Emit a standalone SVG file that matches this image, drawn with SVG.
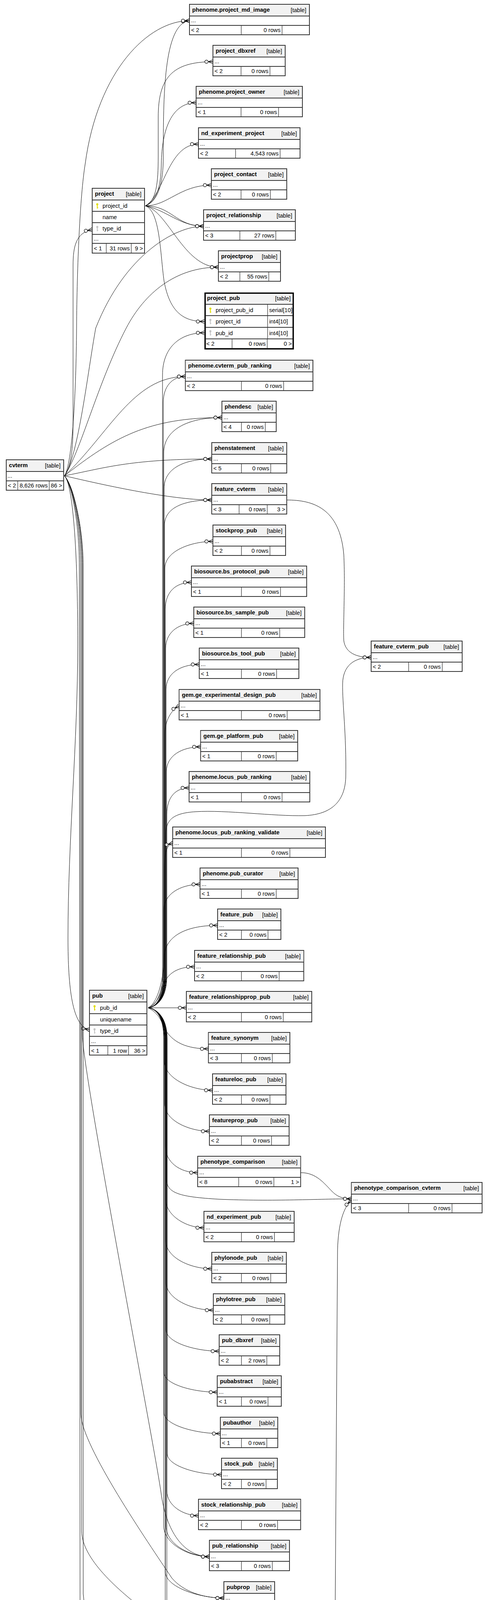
<svg xmlns="http://www.w3.org/2000/svg" xmlns:xlink="http://www.w3.org/1999/xlink" width="1244" height="4453" viewBox="0 0 1244 4453">
<style>
.tb{fill:#fff;stroke:#333;stroke-width:2}
.tbk{fill:#fff;stroke:#000;stroke-width:3.5}
.hd{fill:#f2f2f2}
.ln{stroke:#333;stroke-width:2;fill:none}
.vl{stroke:#333;stroke-width:1.3;fill:none}
.t{font-family:"Liberation Sans",Arial,Helvetica,sans-serif;font-size:14.67px;fill:#000}
.b{font-weight:bold}
.e{text-anchor:end}
.edge{fill:none;stroke:#000;stroke-width:1;marker-end:url(#crow)}
</style>
<defs>
<marker id="crow" viewBox="-24 -8 26 16" refX="0" refY="0" markerWidth="26" markerHeight="16" markerUnits="userSpaceOnUse" orient="auto">
<path d="M-12,0 L0,-5 M-12,0 L0,0 M-12,0 L0,5" fill="none" stroke="#000" stroke-width="1.3"/>
<circle cx="-16.5" cy="0" r="4.2" fill="#fff" stroke="#000" stroke-width="1.3"/>
</marker>
<g id="kpk"><circle cx="0" cy="-4" r="2.7" fill="#e0dc00"/><rect x="-1.1" y="-2" width="2.2" height="9" fill="#e0dc00"/><rect x="0" y="4" width="2.6" height="1.4" fill="#e0dc00"/></g>
<g id="kfk"><circle cx="0" cy="-4" r="2.7" fill="#c4c4c4"/><rect x="-1.1" y="-2" width="2.2" height="9" fill="#c4c4c4"/><rect x="0" y="4" width="2.6" height="1.4" fill="#c4c4c4"/></g>
</defs>
<rect x="0" y="0" width="1244" height="4453" fill="#fff"/>

<g id="connectors">
<!-- project edges -->
<path class="edge" d="M372,527 C405,515 418,470 418,400 C418,250 418,60 485,53"/>
<path class="edge" d="M372,527 C400,515 405,470 405,400 L405,300 C405,200 440,158 545,158"/>
<path class="edge" d="M372,527 C400,515 412,480 413,420 C414,330 440,263 502,263"/>
<path class="edge" d="M372,527 C420,500 430,369 508,369"/>
<path class="edge" d="M372,527 C430,527 460,474 541,474"/>
<path class="edge" d="M372,527 C440,527 450,579 521,579"/>
<path class="edge" d="M372,527 C425,537 460,579 521,579"/>
<path class="edge" d="M372,527 C430,540 470,684 559,684"/>
<path class="edge" d="M372,527 C410,540 410,650 420,720 C435,800 470,823 523,823"/>
<!-- cvterm edges -->
<path class="edge" d="M165,1218 C182,1195 187,1150 187,1080 L187,680 C187,630 195,595 236,588"/>
<path class="edge" d="M165,1218 C185,1190 195,1000 196,840 C197,680 205,500 218,420 C250,180 380,53 485,53"/>
<path class="edge" d="M165,1218 C200,1170 225,950 245,840 C320,650 450,579 521,579"/>
<path class="edge" d="M165,1218 C205,1160 250,980 323,840 C370,750 450,684 559,684"/>
<path class="edge" d="M165,1218 C280,1110 340,964 474.5,964"/>
<path class="edge" d="M165,1218 C290,1120 380,1069 568,1069"/>
<path class="edge" d="M165,1218 C260,1200 330,1175 542,1175"/>
<path class="edge" d="M165,1218 C300,1250 450,1280 542,1280"/>
<path class="edge" d="M165,1218 C186,1240 199,1400 199,1650 C199,1900 174,2150 174,2400 C174,2530 185,2628 229,2636"/>
<path class="edge" d="M165,1218 C190,1245 211,1350 211,1450 L211,2650 C212,2750 395,3700 412,3820 C425,3920 470,3985 536,3985"/>
<path class="edge" d="M165,1218 C188,1245 206,1350 206,1450 L207,3620 C208,3700 380,3950 440,4040 C470,4075 520,4091 573,4091"/>
<path class="edge" d="M165,1218 C188,1245 209,1350 209,1450 L209,3920 C210,3990 300,4070 380,4130 C430,4170 490,4196 552,4196"/>
<path class="edge" d="M165,1218 C188,1245 213,1350 213,1450 L213,4080 C225,4230 330,4301 494,4301"/>
<path class="edge" d="M165,1218 C186,1245 203,1350 203,1450 L205,4200 C207,4340 380,4403 630,4403 C760,4403 850,4370 857,4270 L864,3200 C866,3130 880,3090 899.5,3073"/>
<!-- pub edges (upwards) -->
<path class="edge" d="M379,2580 C398,2578 416,2560 416,2500 L416,960 C416,890 460,852 523,852"/>
<path class="edge" d="M379,2580 C398,2578 418,2560 418,2500 L418,1030 C418,990 440,964 474.5,964"/>
<path class="edge" d="M379,2580 C398,2578 419,2560 419,2500 L419,1160 C419,1100 480,1069 568,1069"/>
<path class="edge" d="M379,2580 C398,2578 420,2560 420,2500 L420,1250 C420,1200 470,1175 542,1175"/>
<path class="edge" d="M379,2580 C398,2578 421,2560 421,2500 L421,1345 C421,1300 470,1280 542,1280"/>
<path class="edge" d="M379,2580 C398,2578 422,2560 422,2500 L422,1455 C422,1410 490,1386 545,1386"/>
<path class="edge" d="M379,2580 C398,2578 423,2560 423,2500 L423,1560 C423,1515 450,1491 490,1491"/>
<path class="edge" d="M379,2580 C398,2578 424,2560 424,2500 L424,1660 C424,1620 455,1596 496,1596"/>
<path class="edge" d="M379,2580 C398,2578 425,2560 425,2500 L425,1765 C425,1725 460,1701 510,1701"/>
<path class="edge" d="M379,2580 C398,2578 422,2560 422,2500 L422,1880 C422,1845 438,1818 458.5,1807"/>
<path class="edge" d="M379,2580 C398,2578 426,2560 426,2500 L426,1975 C426,1935 465,1912 513.5,1912"/>
<path class="edge" d="M379,2580 C398,2578 427,2560 427,2500 L427,2085 C427,2040 450,2017 484,2017"/>
<path class="edge" d="M379,2580 C398,2578 421,2560 421,2500 L421,2230 C421,2190 424,2163 442,2159"/>
<path class="edge" d="M379,2580 C398,2578 419,2540 419,2470 L419,2330 C419,2290 460,2264 512,2264"/>
<path class="edge" d="M379,2580 C400,2570 418,2520 420,2450 C422,2400 470,2369 557,2369"/>
<path class="edge" d="M379,2580 C400,2570 410,2550 415,2530 C425,2495 450,2475 498,2475"/>
<path class="edge" d="M379,2580 L477,2580"/>
<path class="edge" d="M379,2580 C398,2578 424,2560 424,2500 L424,2140 C424,2100 440,2082 500,2078 C580,2073 700,2090 780,2088 C850,2085 883,2050 885,1990 C887,1880 876,1800 877,1750 C878,1705 905,1683 950,1683"/>
<!-- pub edges (downwards) -->
<path class="edge" d="M379,2580 C400,2590 410,2605 420,2630 C440,2670 480,2685 533.5,2685"/>
<path class="edge" d="M379,2580 C398,2582 421,2600 421,2660 L421,2717 C421,2761 489,2791 544,2791"/>
<path class="edge" d="M379,2580 C398,2582 422,2600 422,2660 L422,2827 C422,2869 485,2896 536,2896"/>
<path class="edge" d="M379,2580 C398,2582 423,2600 423,2660 L423,2933 C423,2975 460,3002 506,3002"/>
<path class="edge" d="M379,2580 C398,2582 424,2600 424,2660 L424,3069 C424,3113 478,3143 522,3143"/>
<path class="edge" d="M379,2580 C398,2582 424,2600 424,2660 L424,3175 C424,3219 486,3248 542,3248"/>
<path class="edge" d="M379,2580 C398,2582 425,2600 425,2660 L425,3282 C425,3325 490,3354 546,3354"/>
<path class="edge" d="M379,2580 C398,2582 425,2600 425,2660 L425,3404 C425,3437 500,3459 561,3459"/>
<path class="edge" d="M379,2580 C398,2582 420,2600 420,2660 L420,3514 C420,3544 495,3564 556,3564"/>
<path class="edge" d="M379,2580 C398,2582 420,2600 420,2660 L420,3617 C420,3648 500,3670 564,3670"/>
<path class="edge" d="M379,2580 C398,2582 428,2600 428,2660 L428,3721 C428,3753 505,3775 567,3775"/>
<path class="edge" d="M379,2580 C398,2582 427,2600 427,2660 L427,3816 C427,3855 470,3880 508,3880"/>
<path class="edge" d="M379,2580 C398,2582 419,2600 419,2660 L419,3906 C419,3950 480,3985 536,3985"/>
<path class="edge" d="M379,2580 C398,2582 425,2600 425,2660 L425,3906 C425,3955 490,3985 536,3985"/>
<path class="edge" d="M379,2580 C398,2582 423,2600 423,2660 L423,4023 C423,4063 510,4091 573,4091"/>
<path class="edge" d="M379,2580 C398,2582 423,2600 423,2660 L423,4110 C425,4160 480,4196 552,4196"/>
<path class="edge" d="M379,2580 C398,2582 427,2600 427,2660 L427,4236 C427,4275 450,4301 494,4301"/>
<path class="edge" d="M379,2580 C398,2582 426,2600 426,2660 L426,3020 C428,3055 460,3064 560,3070 C700,3076 820,3069 899.5,3069"/>
<!-- other edges -->
<path class="edge" d="M734,1280 C800,1280 870,1300 880,1420 C884,1500 878,1600 880,1640 C884,1670 910,1683 950,1683"/>
<path class="edge" d="M770,3002 C810,3002 830,3030 850,3050 C862,3062 875,3069 899.5,3069"/>
</g>

<g id="cvterm">
<rect class="tb" x="16" y="1177" width="147" height="78"/>
<rect class="hd" x="17" y="1178" width="145" height="29"/>
<path class="ln" d="M16,1207H163M16,1231H163"/>
<path class="vl" d="M45.5,1231V1255M126,1231V1255"/>
<text class="t b" x="23" y="1196">cvterm</text>
<text class="t e" x="155" y="1197">[table]</text>
<text class="t" x="19" y="1223">...</text>
<text class="t" x="20" y="1248">&lt; 2</text>
<text class="t e" x="122" y="1248">8,626 rows</text>
<text class="t e" x="159" y="1248">86 &gt;</text>
</g>

<g id="project">
<rect class="tb" x="236" y="482" width="134" height="166"/>
<rect class="hd" x="237" y="483" width="132" height="29"/>
<path class="ln" d="M236,512H370M236,541H370M236,570H370M236,600H370M236,623H370"/>
<path class="vl" d="M272,623V648M336,623V648"/>
<text class="t b" x="243" y="501">project</text>
<text class="t e" x="362" y="502">[table]</text>
<use xlink:href="#kpk" href="#kpk" x="249" y="527"/>
<text class="t" x="262.6" y="531.5">project_id</text>
<text class="t" x="262.6" y="560.5">name</text>
<use xlink:href="#kfk" href="#kfk" x="249" y="585"/>
<text class="t" x="262.6" y="590">type_id</text>
<text class="t" x="240" y="616">...</text>
<text class="t" x="240" y="641">&lt; 1</text>
<text class="t e" x="332" y="641">31 rows</text>
<text class="t e" x="366" y="641">9 &gt;</text>
</g>

<g id="pub">
<rect class="tb" x="229" y="2535" width="147" height="166"/>
<rect class="hd" x="230" y="2536" width="145" height="29"/>
<path class="ln" d="M229,2565H376M229,2595H376M229,2624H376M229,2653H376M229,2677H376"/>
<path class="vl" d="M276,2677V2701M329,2677V2701"/>
<text class="t b" x="236" y="2554">pub</text>
<text class="t e" x="368" y="2555">[table]</text>
<use xlink:href="#kpk" href="#kpk" x="242" y="2580"/>
<text class="t" x="256" y="2585">pub_id</text>
<text class="t" x="256" y="2614.5">uniquename</text>
<use xlink:href="#kfk" href="#kfk" x="242" y="2639"/>
<text class="t" x="256" y="2643.5">type_id</text>
<text class="t" x="233" y="2670">...</text>
<text class="t" x="233" y="2694.5">&lt; 1</text>
<text class="t e" x="325" y="2694.5">1 row</text>
<text class="t e" x="372" y="2694.5">36 &gt;</text>
</g>

<g id="project_pub">
<rect class="tbk" x="525" y="750.5" width="225.5" height="142.5"/>
<rect class="hd" x="527" y="752.5" width="221.5" height="26.5"/>
<path class="ln" d="M527,779H749M527,808H749M527,838H749M527,867.5H749"/>
<path class="vl" d="M685,779V867.5M594,867.5V891M684,867.5V891"/>
<text class="t b" x="530" y="768">project_pub</text>
<text class="t e" x="744" y="769">[table]</text>
<use xlink:href="#kpk" href="#kpk" x="538.5" y="794"/>
<text class="t" x="552" y="798.5">project_pub_id</text>
<text class="t" x="689" y="798.5">serial[10]</text>
<use xlink:href="#kfk" href="#kfk" x="538.5" y="823"/>
<text class="t" x="552" y="828">project_id</text>
<text class="t" x="689" y="828">int4[10]</text>
<use xlink:href="#kfk" href="#kfk" x="538.5" y="852"/>
<text class="t" x="552" y="857.5">pub_id</text>
<text class="t" x="689" y="857.5">int4[10]</text>
<text class="t" x="528" y="885">&lt; 2</text>
<text class="t e" x="680" y="885">0 rows</text>
<text class="t e" x="747" y="885">0 &gt;</text>
</g>

<g id="phenome.project_md_image">
<rect class="tb" x="485" y="11" width="307" height="78"/><rect class="hd" x="486" y="12" width="305" height="29"/>
<path class="ln" d="M485,41H792M485,65H792"/><path class="vl" d="M617.5,65V89M722,65V89"/>
<text class="t b" x="492" y="30">phenome.project_md_image</text><text class="t e" x="784" y="31">[table]</text>
<text class="t" x="489" y="57">...</text><text class="t" x="489" y="82">&lt; 2</text><text class="t e" x="718" y="82">0 rows</text>
</g>
<g id="project_dbxref">
<rect class="tb" x="545" y="116" width="185" height="78"/><rect class="hd" x="546" y="117" width="183" height="29"/>
<path class="ln" d="M545,146H730M545,170H730"/><path class="vl" d="M617,170V194M691,170V194"/>
<text class="t b" x="552" y="135">project_dbxref</text><text class="t e" x="722" y="136">[table]</text>
<text class="t" x="549" y="162">...</text><text class="t" x="549" y="187">&lt; 2</text><text class="t e" x="687" y="187">0 rows</text>
</g>
<g id="phenome.project_owner">
<rect class="tb" x="502" y="221" width="272" height="78"/><rect class="hd" x="503" y="222" width="270" height="29"/>
<path class="ln" d="M502,251H774M502,275H774"/><path class="vl" d="M617,275V299M713,275V299"/>
<text class="t b" x="509" y="240">phenome.project_owner</text><text class="t e" x="766" y="241">[table]</text>
<text class="t" x="506" y="267">...</text><text class="t" x="506" y="292">&lt; 1</text><text class="t e" x="709" y="292">0 rows</text>
</g>
<g id="nd_experiment_project">
<rect class="tb" x="508" y="327" width="260" height="78"/><rect class="hd" x="509" y="328" width="258" height="29"/>
<path class="ln" d="M508,357H768M508,381H768"/><path class="vl" d="M603,381V405M717,381V405"/>
<text class="t b" x="515" y="346">nd_experiment_project</text><text class="t e" x="760" y="347">[table]</text>
<text class="t" x="512" y="373">...</text><text class="t" x="512" y="398">&lt; 2</text><text class="t e" x="713" y="398">4,543 rows</text>
</g>
<g id="project_contact">
<rect class="tb" x="541" y="432" width="193" height="78"/><rect class="hd" x="542" y="433" width="191" height="29"/>
<path class="ln" d="M541,462H734M541,486H734"/><path class="vl" d="M617,486V510M692,486V510"/>
<text class="t b" x="548" y="451">project_contact</text><text class="t e" x="726" y="452">[table]</text>
<text class="t" x="545" y="478">...</text><text class="t" x="545" y="503">&lt; 2</text><text class="t e" x="688" y="503">0 rows</text>
</g>
<g id="project_relationship">
<rect class="tb" x="521" y="537" width="235" height="78"/><rect class="hd" x="522" y="538" width="233" height="29"/>
<path class="ln" d="M521,567H756M521,591H756"/><path class="vl" d="M614,591V615M706,591V615"/>
<text class="t b" x="528" y="556">project_relationship</text><text class="t e" x="748" y="557">[table]</text>
<text class="t" x="525" y="583">...</text><text class="t" x="525" y="608">&lt; 3</text><text class="t e" x="702" y="608">27 rows</text>
</g>
<g id="projectprop">
<rect class="tb" x="559" y="642" width="159" height="78"/><rect class="hd" x="560" y="643" width="157" height="29"/>
<path class="ln" d="M559,672H718M559,696H718"/><path class="vl" d="M614,696V720M688,696V720"/>
<text class="t b" x="566" y="661">projectprop</text><text class="t e" x="710" y="662">[table]</text>
<text class="t" x="563" y="688">...</text><text class="t" x="563" y="713">&lt; 2</text><text class="t e" x="684" y="713">55 rows</text>
</g>
<g id="phenome.cvterm_pub_ranking">
<rect class="tb" x="474.5" y="922" width="326.5" height="78"/><rect class="hd" x="475.5" y="923" width="324.5" height="29"/>
<path class="ln" d="M474.5,952H801M474.5,976H801"/><path class="vl" d="M618,976V1000M726,976V1000"/>
<text class="t b" x="481.5" y="941">phenome.cvterm_pub_ranking</text><text class="t e" x="793" y="942">[table]</text>
<text class="t" x="478.5" y="968">...</text><text class="t" x="478.5" y="993">&lt; 2</text><text class="t e" x="722" y="993">0 rows</text>
</g>
<g id="phendesc">
<rect class="tb" x="568" y="1027" width="139" height="78"/><rect class="hd" x="569" y="1028" width="137" height="29"/>
<path class="ln" d="M568,1057H707M568,1081H707"/><path class="vl" d="M618,1081V1105M679,1081V1105"/>
<text class="t b" x="575" y="1046">phendesc</text><text class="t e" x="699" y="1047">[table]</text>
<text class="t" x="572" y="1073">...</text><text class="t" x="572" y="1098">&lt; 4</text><text class="t e" x="675" y="1098">0 rows</text>
</g>
<g id="phenstatement">
<rect class="tb" x="542" y="1133" width="192" height="78"/><rect class="hd" x="543" y="1134" width="190" height="29"/>
<path class="ln" d="M542,1163H734M542,1187H734"/><path class="vl" d="M618,1187V1211M693,1187V1211"/>
<text class="t b" x="549" y="1152">phenstatement</text><text class="t e" x="726" y="1153">[table]</text>
<text class="t" x="546" y="1179">...</text><text class="t" x="546" y="1204">&lt; 5</text><text class="t e" x="689" y="1204">0 rows</text>
</g>
<g id="feature_cvterm">
<rect class="tb" x="542" y="1238" width="192" height="78"/><rect class="hd" x="543" y="1239" width="190" height="29"/>
<path class="ln" d="M542,1268H734M542,1292H734"/><path class="vl" d="M612,1292V1316M684,1292V1316"/>
<text class="t b" x="549" y="1257">feature_cvterm</text><text class="t e" x="726" y="1258">[table]</text>
<text class="t" x="546" y="1284">...</text><text class="t" x="546" y="1309">&lt; 3</text><text class="t e" x="680" y="1309">0 rows</text><text class="t e" x="730" y="1309">3 &gt;</text>
</g>
<g id="stockprop_pub">
<rect class="tb" x="545" y="1344" width="186" height="78"/><rect class="hd" x="546" y="1345" width="184" height="29"/>
<path class="ln" d="M545,1374H731M545,1398H731"/><path class="vl" d="M618,1398V1422M691,1398V1422"/>
<text class="t b" x="552" y="1363">stockprop_pub</text><text class="t e" x="723" y="1364">[table]</text>
<text class="t" x="549" y="1390">...</text><text class="t" x="549" y="1415">&lt; 2</text><text class="t e" x="687" y="1415">0 rows</text>
</g>
<g id="biosource.bs_protocol_pub">
<rect class="tb" x="490" y="1449" width="295" height="78"/><rect class="hd" x="491" y="1450" width="293" height="29"/>
<path class="ln" d="M490,1479H785M490,1503H785"/><path class="vl" d="M618,1503V1527M718,1503V1527"/>
<text class="t b" x="497" y="1468">biosource.bs_protocol_pub</text><text class="t e" x="777" y="1469">[table]</text>
<text class="t" x="494" y="1495">...</text><text class="t" x="494" y="1520">&lt; 1</text><text class="t e" x="714" y="1520">0 rows</text>
</g>
<g id="biosource.bs_sample_pub">
<rect class="tb" x="496" y="1554" width="284" height="78"/><rect class="hd" x="497" y="1555" width="282" height="29"/>
<path class="ln" d="M496,1584H780M496,1608H780"/><path class="vl" d="M618,1608V1632M716,1608V1632"/>
<text class="t b" x="503" y="1573">biosource.bs_sample_pub</text><text class="t e" x="772" y="1574">[table]</text>
<text class="t" x="500" y="1600">...</text><text class="t" x="500" y="1625">&lt; 1</text><text class="t e" x="712" y="1625">0 rows</text>
</g>
<g id="biosource.bs_tool_pub">
<rect class="tb" x="510" y="1659" width="255" height="78"/><rect class="hd" x="511" y="1660" width="253" height="29"/>
<path class="ln" d="M510,1689H765M510,1713H765"/><path class="vl" d="M618,1713V1737M708,1713V1737"/>
<text class="t b" x="517" y="1678">biosource.bs_tool_pub</text><text class="t e" x="757" y="1679">[table]</text>
<text class="t" x="514" y="1705">...</text><text class="t" x="514" y="1730">&lt; 1</text><text class="t e" x="704" y="1730">0 rows</text>
</g>
<g id="gem.ge_experimental_design_pub">
<rect class="tb" x="458.5" y="1765" width="360.5" height="78"/><rect class="hd" x="459.5" y="1766" width="358.5" height="29"/>
<path class="ln" d="M458.5,1795H819M458.5,1819H819"/><path class="vl" d="M618,1819V1843M735,1819V1843"/>
<text class="t b" x="465.5" y="1784">gem.ge_experimental_design_pub</text><text class="t e" x="811" y="1785">[table]</text>
<text class="t" x="462.5" y="1811">...</text><text class="t" x="462.5" y="1836">&lt; 1</text><text class="t e" x="731" y="1836">0 rows</text>
</g>
<g id="gem.ge_platform_pub">
<rect class="tb" x="513.5" y="1870" width="248.5" height="78"/><rect class="hd" x="514.5" y="1871" width="246.5" height="29"/>
<path class="ln" d="M513.5,1900H762M513.5,1924H762"/><path class="vl" d="M618,1924V1948M707,1924V1948"/>
<text class="t b" x="520.5" y="1889">gem.ge_platform_pub</text><text class="t e" x="754" y="1890">[table]</text>
<text class="t" x="517.5" y="1916">...</text><text class="t" x="517.5" y="1941">&lt; 1</text><text class="t e" x="703" y="1941">0 rows</text>
</g>
<g id="phenome.locus_pub_ranking">
<rect class="tb" x="484" y="1975" width="309" height="78"/><rect class="hd" x="485" y="1976" width="307" height="29"/>
<path class="ln" d="M484,2005H793M484,2029H793"/><path class="vl" d="M618,2029V2053M722,2029V2053"/>
<text class="t b" x="491" y="1994">phenome.locus_pub_ranking</text><text class="t e" x="785" y="1995">[table]</text>
<text class="t" x="488" y="2021">...</text><text class="t" x="488" y="2046">&lt; 1</text><text class="t e" x="718" y="2046">0 rows</text>
</g>
<g id="phenome.locus_pub_ranking_validate">
<rect class="tb" x="442" y="2117" width="391" height="78"/><rect class="hd" x="443" y="2118" width="389" height="29"/>
<path class="ln" d="M442,2147H833M442,2171H833"/><path class="vl" d="M618,2171V2195M742,2171V2195"/>
<text class="t b" x="449" y="2136">phenome.locus_pub_ranking_validate</text><text class="t e" x="825" y="2137">[table]</text>
<text class="t" x="446" y="2163">...</text><text class="t" x="446" y="2188">&lt; 1</text><text class="t e" x="738" y="2188">0 rows</text>
</g>
<g id="phenome.pub_curator">
<rect class="tb" x="512" y="2222" width="251" height="78"/><rect class="hd" x="513" y="2223" width="249" height="29"/>
<path class="ln" d="M512,2252H763M512,2276H763"/><path class="vl" d="M618,2276V2300M707,2276V2300"/>
<text class="t b" x="519" y="2241">phenome.pub_curator</text><text class="t e" x="755" y="2242">[table]</text>
<text class="t" x="516" y="2268">...</text><text class="t" x="516" y="2293">&lt; 1</text><text class="t e" x="703" y="2293">0 rows</text>
</g>
<g id="feature_pub">
<rect class="tb" x="557" y="2327" width="162" height="78"/><rect class="hd" x="558" y="2328" width="160" height="29"/>
<path class="ln" d="M557,2357H719M557,2381H719"/><path class="vl" d="M618,2381V2405M686,2381V2405"/>
<text class="t b" x="564" y="2346">feature_pub</text><text class="t e" x="711" y="2347">[table]</text>
<text class="t" x="561" y="2373">...</text><text class="t" x="561" y="2398">&lt; 2</text><text class="t e" x="682" y="2398">0 rows</text>
</g>
<g id="feature_relationship_pub">
<rect class="tb" x="498" y="2433" width="279.5" height="78"/><rect class="hd" x="499" y="2434" width="277.5" height="29"/>
<path class="ln" d="M498,2463H777.5M498,2487H777.5"/><path class="vl" d="M618,2487V2511M714.5,2487V2511"/>
<text class="t b" x="505" y="2452">feature_relationship_pub</text><text class="t e" x="769.5" y="2453">[table]</text>
<text class="t" x="502" y="2479">...</text><text class="t" x="502" y="2504">&lt; 2</text><text class="t e" x="710.5" y="2504">0 rows</text>
</g>
<g id="feature_relationshipprop_pub">
<rect class="tb" x="477" y="2538" width="321" height="78"/><rect class="hd" x="478" y="2539" width="319" height="29"/>
<path class="ln" d="M477,2568H798M477,2592H798"/><path class="vl" d="M618,2592V2616M725,2592V2616"/>
<text class="t b" x="484" y="2557">feature_relationshipprop_pub</text><text class="t e" x="790" y="2558">[table]</text>
<text class="t" x="481" y="2584">...</text><text class="t" x="481" y="2609">&lt; 2</text><text class="t e" x="721" y="2609">0 rows</text>
</g>
<g id="feature_synonym">
<rect class="tb" x="533.5" y="2643" width="208.5" height="78"/><rect class="hd" x="534.5" y="2644" width="206.5" height="29"/>
<path class="ln" d="M533.5,2673H742M533.5,2697H742"/><path class="vl" d="M618,2697V2721M697,2697V2721"/>
<text class="t b" x="540.5" y="2662">feature_synonym</text><text class="t e" x="734" y="2663">[table]</text>
<text class="t" x="537.5" y="2689">...</text><text class="t" x="537.5" y="2714">&lt; 3</text><text class="t e" x="693" y="2714">0 rows</text>
</g>
<g id="featureloc_pub">
<rect class="tb" x="544" y="2749" width="188" height="78"/><rect class="hd" x="545" y="2750" width="186" height="29"/>
<path class="ln" d="M544,2779H732M544,2803H732"/><path class="vl" d="M618,2803V2827M691,2803V2827"/>
<text class="t b" x="551" y="2768">featureloc_pub</text><text class="t e" x="724" y="2769">[table]</text>
<text class="t" x="548" y="2795">...</text><text class="t" x="548" y="2820">&lt; 2</text><text class="t e" x="687" y="2820">0 rows</text>
</g>
<g id="featureprop_pub">
<rect class="tb" x="536" y="2854" width="204" height="78"/><rect class="hd" x="537" y="2855" width="202" height="29"/>
<path class="ln" d="M536,2884H740M536,2908H740"/><path class="vl" d="M618,2908V2932M695,2908V2932"/>
<text class="t b" x="543" y="2873">featureprop_pub</text><text class="t e" x="732" y="2874">[table]</text>
<text class="t" x="540" y="2900">...</text><text class="t" x="540" y="2925">&lt; 2</text><text class="t e" x="691" y="2925">0 rows</text>
</g>
<g id="phenotype_comparison">
<rect class="tb" x="506" y="2960" width="263.5" height="78"/><rect class="hd" x="507" y="2961" width="261.5" height="29"/>
<path class="ln" d="M506,2990H769.5M506,3014H769.5"/><path class="vl" d="M611,3014V3038M701,3014V3038"/>
<text class="t b" x="513" y="2979">phenotype_comparison</text><text class="t e" x="761.5" y="2980">[table]</text>
<text class="t" x="510" y="3006">...</text><text class="t" x="510" y="3031">&lt; 8</text><text class="t e" x="697" y="3031">0 rows</text><text class="t e" x="765.5" y="3031">1 &gt;</text>
</g>
<g id="nd_experiment_pub">
<rect class="tb" x="522" y="3101" width="231" height="78"/><rect class="hd" x="523" y="3102" width="229" height="29"/>
<path class="ln" d="M522,3131H753M522,3155H753"/><path class="vl" d="M618,3155V3179M702.5,3155V3179"/>
<text class="t b" x="529" y="3120">nd_experiment_pub</text><text class="t e" x="745" y="3121">[table]</text>
<text class="t" x="526" y="3147">...</text><text class="t" x="526" y="3172">&lt; 2</text><text class="t e" x="698.5" y="3172">0 rows</text>
</g>
<g id="phylonode_pub">
<rect class="tb" x="542" y="3206" width="191" height="78"/><rect class="hd" x="543" y="3207" width="189" height="29"/>
<path class="ln" d="M542,3236H733M542,3260H733"/><path class="vl" d="M618,3260V3284M693,3260V3284"/>
<text class="t b" x="549" y="3225">phylonode_pub</text><text class="t e" x="725" y="3226">[table]</text>
<text class="t" x="546" y="3252">...</text><text class="t" x="546" y="3277">&lt; 2</text><text class="t e" x="689" y="3277">0 rows</text>
</g>
<g id="phylotree_pub">
<rect class="tb" x="546" y="3312" width="183" height="78"/><rect class="hd" x="547" y="3313" width="181" height="29"/>
<path class="ln" d="M546,3342H729M546,3366H729"/><path class="vl" d="M618,3366V3390M690.5,3366V3390"/>
<text class="t b" x="553" y="3331">phylotree_pub</text><text class="t e" x="721" y="3332">[table]</text>
<text class="t" x="550" y="3358">...</text><text class="t" x="550" y="3383">&lt; 2</text><text class="t e" x="686.5" y="3383">0 rows</text>
</g>
<g id="pub_dbxref">
<rect class="tb" x="561" y="3417" width="155" height="78"/><rect class="hd" x="562" y="3418" width="153" height="29"/>
<path class="ln" d="M561,3447H716M561,3471H716"/><path class="vl" d="M618,3471V3495M683,3471V3495"/>
<text class="t b" x="568" y="3436">pub_dbxref</text><text class="t e" x="708" y="3437">[table]</text>
<text class="t" x="565" y="3463">...</text><text class="t" x="565" y="3488">&lt; 2</text><text class="t e" x="679" y="3488">2 rows</text>
</g>
<g id="pubabstract">
<rect class="tb" x="556" y="3522" width="164" height="78"/><rect class="hd" x="557" y="3523" width="162" height="29"/>
<path class="ln" d="M556,3552H720M556,3576H720"/><path class="vl" d="M618,3576V3600M686,3576V3600"/>
<text class="t b" x="563" y="3541">pubabstract</text><text class="t e" x="712" y="3542">[table]</text>
<text class="t" x="560" y="3568">...</text><text class="t" x="560" y="3593">&lt; 1</text><text class="t e" x="682" y="3593">0 rows</text>
</g>
<g id="pubauthor">
<rect class="tb" x="564" y="3628" width="147" height="78"/><rect class="hd" x="565" y="3629" width="145" height="29"/>
<path class="ln" d="M564,3658H711M564,3682H711"/><path class="vl" d="M618,3682V3706M683,3682V3706"/>
<text class="t b" x="571" y="3647">pubauthor</text><text class="t e" x="703" y="3648">[table]</text>
<text class="t" x="568" y="3674">...</text><text class="t" x="568" y="3699">&lt; 1</text><text class="t e" x="679" y="3699">0 rows</text>
</g>
<g id="stock_pub">
<rect class="tb" x="567" y="3733" width="143" height="78"/><rect class="hd" x="568" y="3734" width="141" height="29"/>
<path class="ln" d="M567,3763H710M567,3787H710"/><path class="vl" d="M618,3787V3811M681,3787V3811"/>
<text class="t b" x="574" y="3752">stock_pub</text><text class="t e" x="702" y="3753">[table]</text>
<text class="t" x="571" y="3779">...</text><text class="t" x="571" y="3804">&lt; 2</text><text class="t e" x="677" y="3804">0 rows</text>
</g>
<g id="stock_relationship_pub">
<rect class="tb" x="508" y="3838" width="261.5" height="78"/><rect class="hd" x="509" y="3839" width="259.5" height="29"/>
<path class="ln" d="M508,3868H769.5M508,3892H769.5"/><path class="vl" d="M618,3892V3916M710.5,3892V3916"/>
<text class="t b" x="515" y="3857">stock_relationship_pub</text><text class="t e" x="761.5" y="3858">[table]</text>
<text class="t" x="512" y="3884">...</text><text class="t" x="512" y="3909">&lt; 2</text><text class="t e" x="706.5" y="3909">0 rows</text>
</g>
<g id="pub_relationship">
<rect class="tb" x="536" y="3943" width="205" height="78"/><rect class="hd" x="537" y="3944" width="203" height="29"/>
<path class="ln" d="M536,3973H741M536,3997H741"/><path class="vl" d="M618,3997V4021M697,3997V4021"/>
<text class="t b" x="543" y="3962">pub_relationship</text><text class="t e" x="733" y="3963">[table]</text>
<text class="t" x="540" y="3989">...</text><text class="t" x="540" y="4014">&lt; 3</text><text class="t e" x="693" y="4014">0 rows</text>
</g>
<g id="pubprop">
<rect class="tb" x="573" y="4049" width="130" height="78"/><rect class="hd" x="574" y="4050" width="128" height="29"/>
<path class="ln" d="M573,4079H703M573,4103H703"/><path class="vl" d="M618,4103V4127M679,4103V4127"/>
<text class="t b" x="580" y="4068">pubprop</text><text class="t e" x="695" y="4069">[table]</text>
<text class="t" x="577" y="4095">...</text><text class="t" x="577" y="4120">&lt; 2</text><text class="t e" x="675" y="4120">0 rows</text>
</g>
<g id="stock_cvterm">
<rect class="tb" x="552" y="4154" width="173" height="78"/><rect class="hd" x="553" y="4155" width="171" height="29"/>
<path class="ln" d="M552,4184H725M552,4208H725"/><path class="vl" d="M612,4208V4232M679,4208V4232"/>
<text class="t b" x="559" y="4173">stock_cvterm</text><text class="t e" x="717" y="4174">[table]</text>
<text class="t" x="556" y="4200">...</text><text class="t" x="556" y="4225">&lt; 3</text><text class="t e" x="675" y="4225">0 rows</text><text class="t e" x="721" y="4225">1 &gt;</text>
</g>
<g id="stock_relationship_cvterm">
<rect class="tb" x="494" y="4259" width="289" height="78"/><rect class="hd" x="495" y="4260" width="287" height="29"/>
<path class="ln" d="M494,4289H783M494,4313H783"/><path class="vl" d="M618,4313V4337M717,4313V4337"/>
<text class="t b" x="501" y="4278">stock_relationship_cvterm</text><text class="t e" x="775" y="4279">[table]</text>
<text class="t" x="498" y="4305">...</text><text class="t" x="498" y="4330">&lt; 3</text><text class="t e" x="713" y="4330">0 rows</text>
</g>
<g id="feature_cvterm_pub">
<rect class="tb" x="950" y="1641" width="233" height="78"/><rect class="hd" x="951" y="1642" width="231" height="29"/>
<path class="ln" d="M950,1671H1183M950,1695H1183"/><path class="vl" d="M1046,1695V1719M1132,1695V1719"/>
<text class="t b" x="957" y="1660">feature_cvterm_pub</text><text class="t e" x="1175" y="1661">[table]</text>
<text class="t" x="954" y="1687">...</text><text class="t" x="954" y="1712">&lt; 2</text><text class="t e" x="1128" y="1712">0 rows</text>
</g>
<g id="phenotype_comparison_cvterm">
<rect class="tb" x="899.5" y="3027" width="334.5" height="78"/><rect class="hd" x="900.5" y="3028" width="332.5" height="29"/>
<path class="ln" d="M899.5,3057H1234M899.5,3081H1234"/><path class="vl" d="M1046,3081V3105M1157,3081V3105"/>
<text class="t b" x="906.5" y="3046">phenotype_comparison_cvterm</text><text class="t e" x="1226" y="3047">[table]</text>
<text class="t" x="903.5" y="3073">...</text><text class="t" x="903.5" y="3098">&lt; 3</text><text class="t e" x="1153" y="3098">0 rows</text>
</g>

<text class="t" x="16" y="4438">Generated by SchemaSpy</text>
</svg>
